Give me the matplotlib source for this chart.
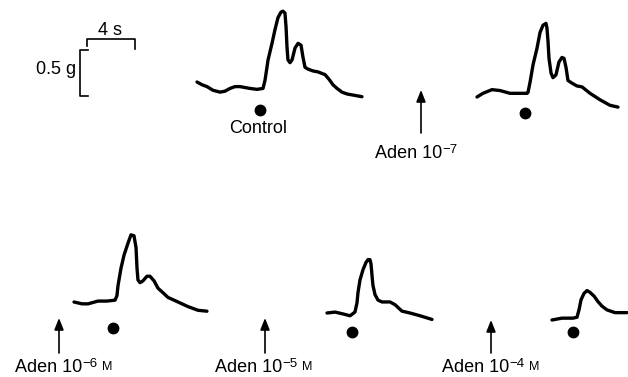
import matplotlib
matplotlib.use("Agg")
import matplotlib.pyplot as plt
import matplotlib.transforms as mtransforms

plt.rcParams['font.family'] = ['Liberation Sans', 'DejaVu Sans']

# traces: time (s) from start of trace, tension (g) relative to start level
control_t = [0, .42, .83, 1.33, 1.92, 2.33, 2.75, 3.17, 3.58, 4.42, 5.0, 5.5, 5.67, 5.92, 6.25,
             6.5, 6.75, 7.0, 7.17, 7.33, 7.42, 7.5, 7.58, 7.75, 7.92, 8.17, 8.42, 8.67, 8.83,
             9.0, 9.25, 9.67, 10.08, 10.67, 11.0, 11.33, 11.67, 12.08, 12.5, 12.92, 13.75]
control_g = [0, -.03, -.05, -.09, -.11, -.10, -.07, -.05, -.05, -.07, -.08, -.07, .02, .24, .42,
             .57, .70, .76, .77, .75, .60, .38, .24, .21, .24, .37, .42, .40, .27,
             .16, .14, .12, .11, .08, .03, -.03, -.07, -.11, -.13, -.14, -.16]

aden7_t = [0, .5, 1.25, 1.92, 2.75, 3.25, 3.75, 4.17, 4.25, 4.42, 4.67, 5.0, 5.25, 5.5, 5.75,
           5.83, 5.92, 6.0, 6.17, 6.33, 6.58, 6.83, 7.08, 7.25, 7.42, 7.58, 7.92, 8.33,
           8.75, 9.42, 10.25, 11.08, 11.75]
aden7_g = [0, .04, .08, .07, .04, .04, .04, .04, .05, .16, .35, .53, .70, .78, .80,
           .75, .60, .42, .26, .21, .24, .38, .43, .42, .32, .18, .15, .12,
           .11, .04, -.03, -.09, -.11]

aden6_t = [0, .67, 1.17, 2.0, 2.75, 3.42, 3.58, 3.67, 3.92, 4.17, 4.5, 4.75, 5.0, 5.17, 5.25,
           5.33, 5.5, 5.75, 6.08, 6.33, 6.67, 7.0, 7.42, 7.83, 8.67, 9.5, 10.33, 11.08]
aden6_g = [0, -.02, -.02, .01, .01, .02, .07, .18, .37, .51, .64, .73, .72, .59, .37,
           .24, .21, .23, .28, .28, .23, .15, .10, .05, 0, -.05, -.09, -.10]

aden5_t = [0, .67, 1.33, 1.92, 2.33, 2.5, 2.58, 2.75, 3.0, 3.25, 3.42, 3.58, 3.67, 3.75, 3.83,
           4.0, 4.25, 4.58, 5.25, 5.67, 6.25, 6.92, 7.75, 8.75]
aden5_g = [0, .01, -.01, -.03, .01, .11, .22, .36, .47, .55, .58, .58, .53, .41, .30,
           .20, .14, .12, .12, .09, .02, 0, -.03, -.07]

aden4_t = [0, .83, 1.75, 2.08, 2.25, 2.42, 2.67, 2.92, 3.17, 3.5, 3.83, 4.17, 4.58, 5.25, 6.25]
aden4_g = [0, .02, .02, .03, .11, .22, .29, .32, .30, .26, .20, .15, .11, .08, .08]

traces = [(control_t, control_g), (aden7_t, aden7_g), (aden6_t, aden6_g),
          (aden5_t, aden5_g), (aden4_t, aden4_g)]
# stimulus marker (dot) under each trace: time (s), level (g)
dot_t = [5.25, 4.0, 3.25, 2.08, 1.75]
dot_g = [-.30, -.17, -.28, -.21, -.13]

doses = ['\u22127', '\u22126', '\u22125', '\u22124']

# layout (pixels)
W, H = 628, 377
px_per_s, px_per_g = 12, 92
origins = [(197, 82), (477, 97), (74, 302), (327, 313), (552, 320)]
arrows = [(421, 133, 90), (59, 353, 318), (265, 353, 318), (491, 353, 320)]
label_pos = [(375, 158, False), (15, 372, True), (215, 372, True), (442, 372, True)]

fig = plt.figure(figsize=(W / 100, H / 100), dpi=100)
ax = fig.add_axes([0, 0, 1, 1])
ax.set_xlim(0, W)
ax.set_ylim(H, 0)
ax.axis('off')

for (t, g), (x0, y0), dt, dg in zip(traces, origins, dot_t, dot_g):
    tr = mtransforms.Affine2D().scale(px_per_s, -px_per_g).translate(x0, y0) + ax.transData
    ax.plot(t, g, color='black', lw=2.4, solid_capstyle='round', solid_joinstyle='round', transform=tr)
    ax.plot([dt], [dg], 'o', color='black', ms=7.5, transform=tr)

ax.text(258, 133, 'Control', fontsize=13, ha='center', va='baseline')

for (ax_x, yb, yt), dose, (lx, ly, molar) in zip(arrows, doses, label_pos):
    ax.annotate('', xy=(ax_x, yt), xytext=(ax_x, yb),
                arrowprops=dict(arrowstyle='-|>,head_length=0.7,head_width=0.28',
                                color='black', lw=1.2, mutation_scale=10,
                                shrinkA=0, shrinkB=0))
    txt = ax.text(lx, ly, 'Aden 10', fontsize=13, ha='left', va='baseline')
    sup = ax.annotate(dose, xy=(1, 0), xycoords=txt, xytext=(0, 4.3), textcoords='offset points',
                      fontsize=9.5, ha='left', va='bottom')
    if molar:
        ax.annotate('M', xy=(1, 0), xycoords=sup, xytext=(3.5, -2.2), textcoords='offset points',
                    fontsize=9, ha='left', va='bottom')

# calibration bars: 0.5 g and 4 s
ax.plot([88, 80, 80, 88], [50, 50, 96, 96], color='black', lw=1.2)
ax.plot([87, 87, 135, 135], [46, 39, 39, 49], color='black', lw=1.2)
ax.text(76, 74, '0.5 g', fontsize=13, ha='right', va='baseline')
ax.text(110, 35, '4 s', fontsize=13, ha='center', va='baseline')

fig.savefig('out.png', dpi=100)
